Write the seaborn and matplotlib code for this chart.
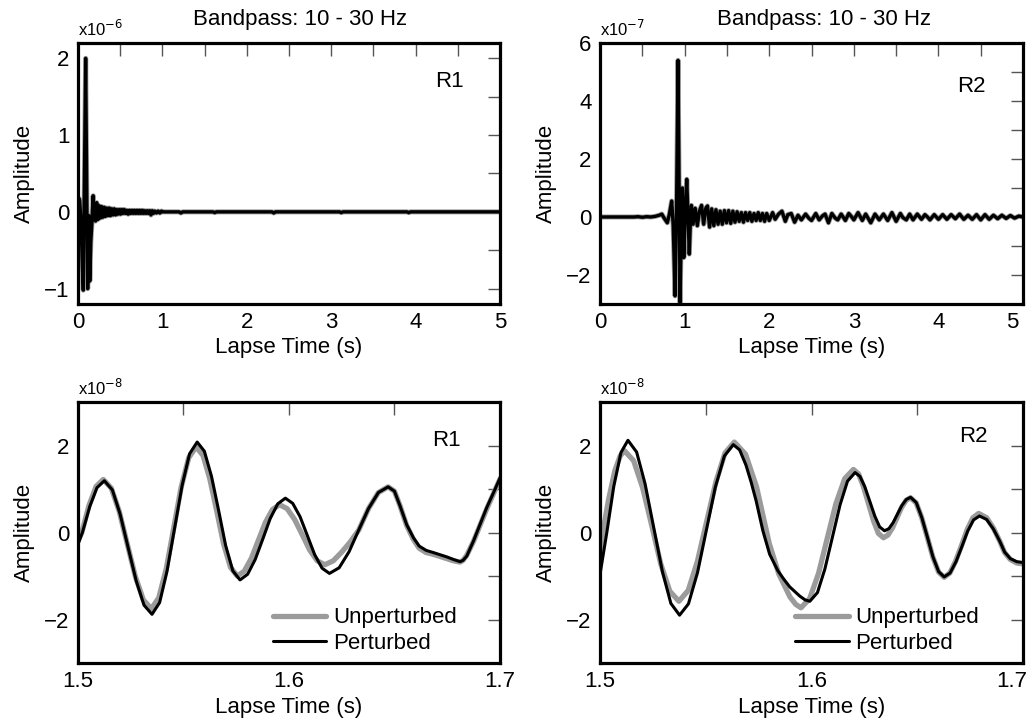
import matplotlib
matplotlib.use("Agg")
import matplotlib.pyplot as plt
import matplotlib.transforms as mtransforms
import seaborn as sns
import pandas as pd
from matplotlib.ticker import MultipleLocator

# full records, (lapse time s, amplitude in units of the panel's scale)
r1_full = [(0.000, 0.00), (0.008, 0.18), (0.020, 0.15), (0.035, -0.10), (0.048, -0.55),
           (0.063, -1.02), (0.078, 0.60), (0.091, 2.00), (0.103, 0.40), (0.115, -1.00),
           (0.124, -0.20), (0.130, -0.05), (0.140, -0.90), (0.152, -0.40), (0.165, -0.15),
           (0.180, 0.21), (0.195, -0.10), (0.208, -0.12), (0.222, 0.12), (0.236, -0.10),
           (0.250, 0.08), (0.265, -0.08), (0.280, 0.07), (0.295, -0.07), (0.310, 0.06),
           (0.325, -0.06), (0.340, 0.05), (0.355, -0.05), (0.370, 0.05), (0.385, -0.05),
           (0.400, 0.04), (0.415, -0.04), (0.430, 0.04), (0.445, -0.04), (0.460, 0.03),
           (0.475, -0.03), (0.490, 0.03), (0.505, -0.03), (0.520, 0.03), (0.535, -0.02),
           (0.550, 0.03), (0.565, -0.02), (0.580, 0.02), (0.595, -0.03), (0.610, 0.02),
           (0.625, -0.02), (0.640, 0.02), (0.655, -0.02), (0.670, 0.02), (0.685, -0.02),
           (0.700, 0.02), (0.715, -0.02), (0.730, 0.02), (0.745, -0.02), (0.760, 0.02),
           (0.775, -0.02), (0.790, 0.015), (0.805, -0.02), (0.820, 0.015), (0.835, -0.02),
           (0.850, 0.015), (0.865, -0.04), (0.880, 0.015), (0.895, -0.02), (0.910, 0.01),
           (0.930, -0.015), (0.950, 0.01), (0.970, -0.015), (0.990, 0.01), (1.00, 0.00),
           (1.20, 0.00), (1.22, -0.015), (1.24, 0.00), (1.60, 0.00), (1.62, -0.01),
           (1.64, 0.00), (2.30, 0.00), (2.32, -0.015), (2.34, 0.00), (3.10, 0.00),
           (3.12, -0.01), (3.14, 0.00), (3.90, 0.00), (3.92, -0.01), (3.94, 0.00),
           (5.00, 0.00)]

r2_full = [(0.00, 0.00), (0.20, 0.00), (0.40, 0.00), (0.45, 0.01), (0.50, -0.01),
           (0.55, 0.01), (0.60, 0.00), (0.65, 0.02), (0.70, 0.06), (0.73, 0.10),
           (0.76, -0.05), (0.795, -0.20), (0.82, 0.10), (0.847, 0.55), (0.865, -0.30),
           (0.887, -2.72), (0.905, 0.50), (0.922, 5.40), (0.935, 1.00), (0.946, -2.95),
           (0.960, -0.50), (0.973, 1.00), (0.990, -1.40), (1.005, 0.00), (1.025, 1.30),
           (1.040, 0.00), (1.055, -1.28), (1.070, 0.00), (1.080, 0.40),
           (1.100, -0.25), (1.125, 0.30), (1.150, -0.30), (1.175, 0.20), (1.200, 0.40),
           (1.225, -0.25), (1.250, 0.30), (1.270, 0.38), (1.295, -0.35), (1.320, 0.28),
           (1.345, -0.30), (1.370, 0.25), (1.395, -0.25), (1.420, 0.20), (1.445, -0.25),
           (1.470, 0.22), (1.495, -0.20), (1.520, 0.22), (1.545, -0.22), (1.570, 0.20),
           (1.595, -0.18), (1.620, 0.18), (1.645, -0.15), (1.670, 0.15), (1.695, -0.18),
           (1.720, 0.15), (1.745, -0.12), (1.770, 0.15), (1.795, -0.15), (1.820, 0.12),
           (1.845, -0.12), (1.870, 0.15), (1.895, -0.12), (1.920, 0.12), (1.945, -0.15),
           (1.970, 0.12), (2.00, -0.12), (2.04, 0.15), (2.07, -0.08), (2.11, 0.10),
           (2.15, 0.20), (2.19, -0.15), (2.22, 0.08), (2.26, 0.12), (2.30, -0.18),
           (2.34, 0.06), (2.38, -0.10), (2.43, 0.10), (2.47, -0.05), (2.50, -0.12),
           (2.55, 0.12), (2.59, -0.10), (2.63, 0.04), (2.66, 0.10), (2.70, -0.20),
           (2.74, 0.12), (2.78, -0.04), (2.81, -0.10), (2.85, 0.10), (2.90, -0.12),
           (2.94, 0.12), (2.97, 0.02), (3.00, -0.10), (3.05, 0.15), (3.10, -0.12),
           (3.14, 0.10), (3.17, -0.05), (3.20, -0.20), (3.25, 0.10), (3.30, -0.10),
           (3.35, 0.10), (3.40, -0.12), (3.45, 0.15), (3.50, -0.15), (3.55, 0.12),
           (3.58, -0.02), (3.62, -0.10), (3.66, 0.10), (3.70, -0.10), (3.75, 0.10),
           (3.80, -0.08), (3.84, 0.08), (3.87, 0.00), (3.90, -0.10), (3.95, 0.08),
           (4.00, -0.08), (4.05, 0.08), (4.10, -0.08), (4.15, 0.08), (4.20, -0.06),
           (4.25, 0.10), (4.30, -0.08), (4.35, 0.06), (4.40, -0.08), (4.45, 0.08),
           (4.50, -0.10), (4.55, 0.08), (4.60, -0.08), (4.65, 0.06), (4.70, -0.06),
           (4.75, 0.06), (4.80, -0.05), (4.85, 0.05), (4.90, -0.04), (4.95, 0.03),
           (5.00, 0.00)]

# zoomed window 1.5 - 1.7 s, amplitude in 1e-8
r1_unpert = [(1.5000, -0.20), (1.5018, 0.00), (1.5052, 0.62), (1.5086, 1.06), (1.5120, 1.22),
             (1.5158, 1.02), (1.5196, 0.48), (1.5234, -0.27), (1.5272, -1.01), (1.5310, -1.55),
             (1.5348, -1.75), (1.5383, -1.50), (1.5419, -0.82), (1.5454, 0.11), (1.5489, 1.04),
             (1.5525, 1.72), (1.5560, 1.97), (1.5593, 1.77), (1.5625, 1.23), (1.5658, 0.49),
             (1.5690, -0.26), (1.5723, -0.80), (1.5755, -1.00), (1.5788, -0.89), (1.5822, -0.59),
             (1.5855, -0.18), (1.5888, 0.23), (1.5922, 0.53), (1.5955, 0.64), (1.5991, 0.55),
             (1.6027, 0.30), (1.6063, -0.05), (1.6098, -0.40), (1.6134, -0.65), (1.6170, -0.74),
             (1.6210, -0.65), (1.6250, -0.45), (1.6290, -0.22), (1.6331, 0.06), (1.6377, 0.55),
             (1.6424, 0.92), (1.6470, 1.05), (1.6500, 0.95), (1.6526, 0.62), (1.6558, 0.16),
             (1.6590, -0.16), (1.6617, -0.36), (1.6650, -0.46), (1.6684, -0.50), (1.6716, -0.55),
             (1.6748, -0.60), (1.6780, -0.65), (1.6811, -0.68), (1.6825, -0.64), (1.6843, -0.52),
             (1.6875, -0.20), (1.6906, 0.17), (1.6938, 0.55), (1.6970, 0.90), (1.7002, 1.25)]

r1_pert = [(1.5000, -0.27), (1.5021, 0.00), (1.5056, 0.60), (1.5090, 1.03), (1.5125, 1.19),
           (1.5163, 0.98), (1.5200, 0.42), (1.5238, -0.35), (1.5276, -1.11), (1.5313, -1.67),
           (1.5351, -1.88), (1.5387, -1.61), (1.5422, -0.89), (1.5458, 0.10), (1.5494, 1.09),
           (1.5529, 1.81), (1.5565, 2.08), (1.5599, 1.87), (1.5633, 1.29), (1.5667, 0.50),
           (1.5700, -0.30), (1.5734, -0.88), (1.5768, -1.09), (1.5804, -0.96), (1.5840, -0.62),
           (1.5876, -0.15), (1.5911, 0.32), (1.5947, 0.66), (1.5983, 0.79), (1.6018, 0.67),
           (1.6053, 0.36), (1.6088, -0.08), (1.6122, -0.51), (1.6157, -0.82), (1.6192, -0.94),
           (1.6238, -0.81), (1.6285, -0.44), (1.6331, 0.06), (1.6377, 0.55), (1.6424, 0.92),
           (1.6470, 1.05), (1.6500, 0.95), (1.6526, 0.62), (1.6558, 0.18), (1.6590, -0.12),
           (1.6617, -0.31), (1.6650, -0.41), (1.6684, -0.46), (1.6716, -0.51), (1.6748, -0.56),
           (1.6780, -0.62), (1.6811, -0.67), (1.6825, -0.64), (1.6843, -0.54), (1.6875, -0.19),
           (1.6906, 0.19), (1.6938, 0.58), (1.6970, 0.92), (1.7002, 1.27)]

r2_unpert = [(1.5000, -0.42), (1.5015, 0.05), (1.5040, 0.75), (1.5070, 1.42), (1.5095, 1.76),
             (1.5116, 1.88), (1.5159, 1.65), (1.5202, 1.02), (1.5245, 0.15), (1.5287, -0.72),
             (1.5330, -1.35), (1.5373, -1.58), (1.5417, -1.33), (1.5460, -0.67), (1.5504, 0.25),
             (1.5548, 1.17), (1.5591, 1.83), (1.5635, 2.08), (1.5688, 1.80), (1.5740, 1.05),
             (1.5770, 0.40), (1.5800, -0.25), (1.5845, -0.95), (1.5898, -1.48), (1.5925, -1.65),
             (1.5950, -1.73), (1.5991, -1.52), (1.6033, -0.94), (1.6074, -0.14), (1.6115, 0.66),
             (1.6157, 1.24), (1.6198, 1.45), (1.6222, 1.35), (1.6245, 1.06), (1.6269, 0.67),
             (1.6293, 0.27), (1.6316, -0.02), (1.6340, -0.12), (1.6361, -0.06), (1.6383, 0.11),
             (1.6404, 0.34), (1.6425, 0.57), (1.6447, 0.74), (1.6468, 0.80), (1.6495, 0.68),
             (1.6521, 0.34), (1.6548, -0.12), (1.6574, -0.57), (1.6601, -0.91), (1.6627, -1.03),
             (1.6654, -0.93), (1.6681, -0.66), (1.6709, -0.30), (1.6736, 0.07), (1.6763, 0.34),
             (1.6790, 0.44), (1.6828, 0.34), (1.6860, 0.10), (1.6890, -0.20), (1.6913, -0.46),
             (1.6940, -0.62), (1.6970, -0.70), (1.7000, -0.72)]

r2_pert = [(1.5000, -0.96), (1.5016, -0.48), (1.5032, 0.00), (1.5065, 1.06), (1.5099, 1.84),
           (1.5132, 2.12), (1.5173, 1.85), (1.5213, 1.12), (1.5254, 0.11), (1.5295, -0.90),
           (1.5335, -1.63), (1.5376, -1.90), (1.5418, -1.64), (1.5461, -0.92), (1.5503, 0.06),
           (1.5545, 1.04), (1.5588, 1.76), (1.5630, 2.02), (1.5660, 1.90), (1.5690, 1.55),
           (1.5715, 1.15), (1.5738, 0.73), (1.5770, 0.04), (1.5802, -0.50), (1.5841, -0.88),
           (1.5870, -1.08), (1.5897, -1.25), (1.5944, -1.46), (1.5970, -1.55), (1.5992, -1.58),
           (1.6028, -1.38), (1.6063, -0.84), (1.6099, -0.10), (1.6135, 0.64), (1.6170, 1.18),
           (1.6206, 1.38), (1.6229, 1.29), (1.6252, 1.05), (1.6276, 0.71), (1.6299, 0.38),
           (1.6322, 0.13), (1.6345, 0.04), (1.6366, 0.09), (1.6386, 0.23), (1.6407, 0.43),
           (1.6427, 0.62), (1.6448, 0.76), (1.6468, 0.81), (1.6495, 0.69), (1.6521, 0.35),
           (1.6548, -0.11), (1.6574, -0.56), (1.6601, -0.90), (1.6627, -1.02), (1.6655, -0.93),
           (1.6683, -0.67), (1.6711, -0.32), (1.6738, 0.03), (1.6766, 0.29), (1.6794, 0.38),
           (1.6828, 0.30), (1.6860, 0.08), (1.6890, -0.20), (1.6913, -0.45), (1.6940, -0.60),
           (1.6970, -0.67), (1.7000, -0.69)]

GRAY = "#9b9b9b"
FS = 16


def to_frame(pairs):
    return pd.DataFrame(pairs, columns=["time", "amp"])


def style_axes(ax, xlim, ylim, xstep, ystep, scale_txt, tag, tag_xy):
    """ticks inside on all sides, heavy frame, labels and panel tags"""
    ax.set_xlim(*xlim)
    ax.set_ylim(*ylim)
    ax.xaxis.set_major_locator(MultipleLocator(xstep[0]))
    ax.xaxis.set_minor_locator(MultipleLocator(xstep[1]))
    ax.yaxis.set_major_locator(MultipleLocator(ystep[0]))
    ax.yaxis.set_minor_locator(MultipleLocator(ystep[1]))
    ax.tick_params(which="both", direction="in", length=9, width=1, color="#555555",
                   labelcolor="black", top=True, right=True, labelsize=FS, pad=6)
    for sp in ax.spines.values():
        sp.set_linewidth(2.3)
        sp.set_color("black")
    ax.set_xlabel("Lapse Time (s)", fontsize=FS, labelpad=3, color="black")
    ax.set_ylabel("Amplitude", fontsize=FS, color="black")
    ax.yaxis.set_label_coords(-0.103, 0.5)
    ax.text(0.0, 1.015, scale_txt, transform=ax.transAxes, fontsize=12,
            ha="left", va="bottom", color="black")
    ax.text(tag_xy[0], tag_xy[1], tag, transform=ax.transAxes, fontsize=FS,
            ha="center", va="center", color="black")


def plot_full(ax, pairs):
    df = to_frame(pairs)
    sns.lineplot(data=df, x="time", y="amp", ax=ax, color=GRAY, lw=3.6,
                 estimator=None, sort=False)
    sns.lineplot(data=df, x="time", y="amp", ax=ax, color="black", lw=2.4,
                 estimator=None, sort=False)


def plot_zoom(ax, unpert, pert):
    sns.lineplot(data=to_frame(unpert), x="time", y="amp", ax=ax, color=GRAY, lw=3.8,
                 estimator=None, sort=False, label="Unperturbed")
    sns.lineplot(data=to_frame(pert), x="time", y="amp", ax=ax, color="black", lw=2.2,
                 estimator=None, sort=False, label="Perturbed")
    ax.legend(loc="lower left", bbox_to_anchor=(0.462, 0.035), frameon=False, fontsize=FS,
              handlelength=2.4, handletextpad=0.3, labelspacing=0.2,
              borderpad=0, borderaxespad=0)


if __name__ == "__main__":
    sns.set_theme(style="white")
    plt.rcParams["font.family"] = ["Liberation Sans", "DejaVu Sans"]
    plt.rcParams["text.color"] = "black"

    fig = plt.figure(figsize=(10.34, 7.21), dpi=100)
    ax_tl = fig.add_axes([0.0754, 0.5784, 0.4081, 0.3620])
    ax_tr = fig.add_axes([0.5803, 0.5784, 0.4091, 0.3620])
    ax_bl = fig.add_axes([0.0754, 0.0804, 0.4081, 0.3620])
    ax_br = fig.add_axes([0.5803, 0.0804, 0.4091, 0.3620])

    plot_full(ax_tl, r1_full)
    style_axes(ax_tl, (0, 5), (-1.2, 2.2), (1, 0.5), (1, 0.5),
               r"x10$^{-6}$", "R1", (0.880, 0.852))
    ax_tl.set_title("Bandpass: 10 - 30 Hz", fontsize=FS, pad=13, x=0.526)

    plot_full(ax_tr, r2_full)
    style_axes(ax_tr, (0, 5), (-3, 6), (1, 0.5), (2, 1),
               r"x10$^{-7}$", "R2", (0.878, 0.833))
    ax_tr.set_title("Bandpass: 10 - 30 Hz", fontsize=FS, pad=13, x=0.53)

    plot_zoom(ax_bl, r1_unpert, r1_pert)
    style_axes(ax_bl, (1.5, 1.7), (-3, 3), (0.1, 0.05), (2, 1),
               r"x10$^{-8}$", "R1", (0.874, 0.851))

    plot_zoom(ax_br, r2_unpert, r2_pert)
    style_axes(ax_br, (1.5, 1.7), (-3, 3), (0.1, 0.05), (2, 1),
               r"x10$^{-8}$", "R2", (0.882, 0.868))

    # last tick label of the right-hand panels sits against the figure edge
    fig.canvas.draw()
    shift = mtransforms.ScaledTranslation(-8 / 72, 0, fig.dpi_scale_trans)
    for ax in (ax_tr, ax_br):
        last = ax.xaxis.get_major_ticks()[-1]
        for tick in ax.xaxis.get_major_ticks():
            if tick.get_loc() <= ax.get_xlim()[1] + 1e-9:
                last = tick
        last.label1.set_transform(last.label1.get_transform() + shift)

    fig.savefig("out.png", dpi=100, facecolor="white")
    plt.close(fig)
